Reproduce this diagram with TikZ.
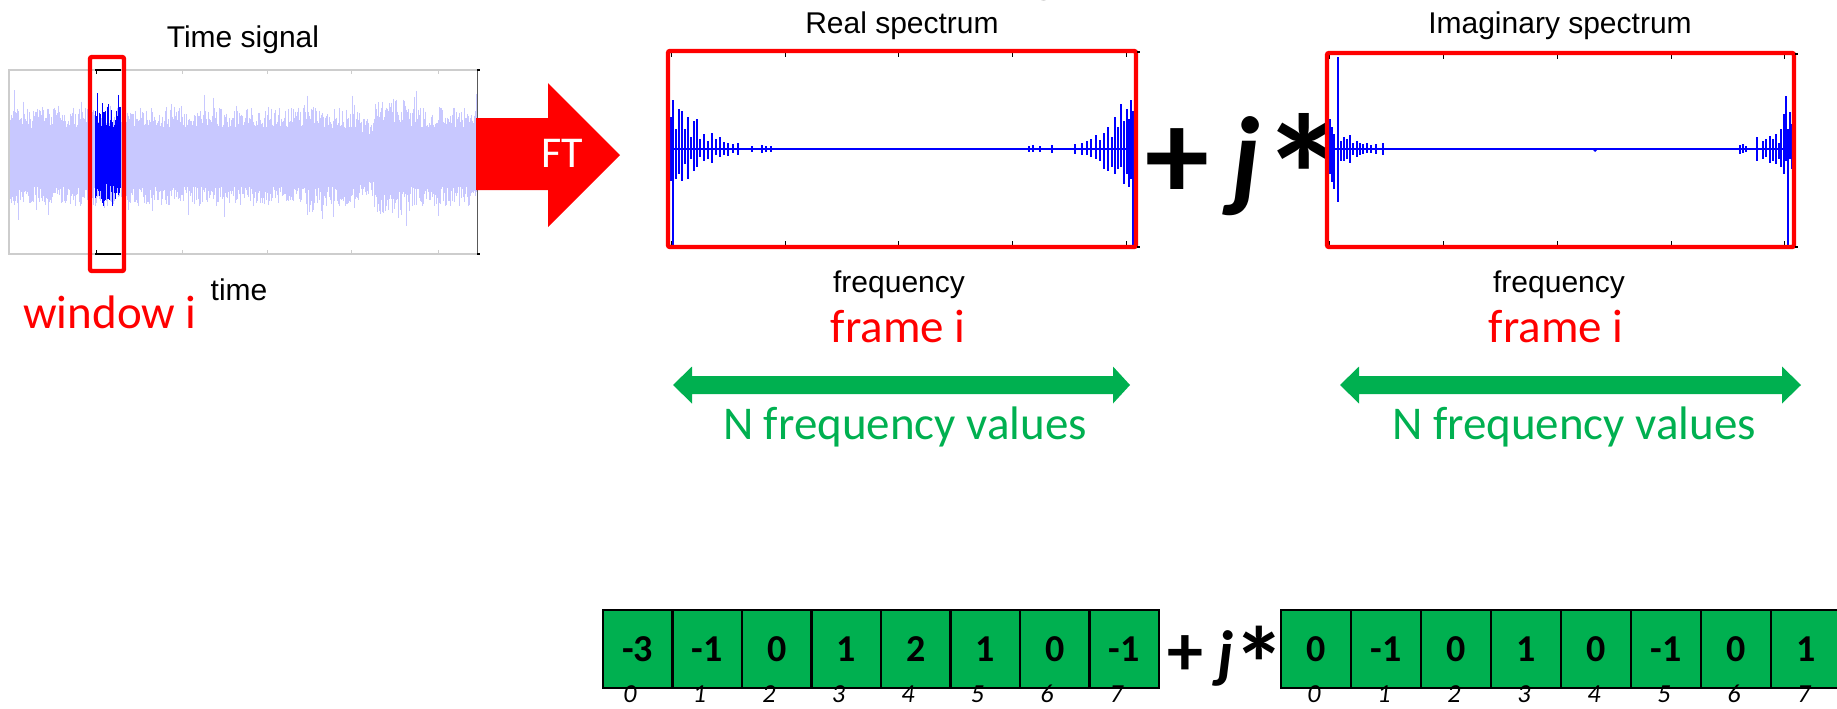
\documentclass[tikz,border=0pt]{standalone}
\usepackage{fontspec}
\setmainfont{Liberation Sans}
\newfontfamily\calib{Carlito}
\usetikzlibrary{calc}

\definecolor{offgreen}{RGB}{0,176,80}
\definecolor{lightsig}{RGB}{200,200,255}
\definecolor{axgrey}{RGB}{205,205,205}
\definecolor{specblue}{RGB}{0,0,255}

\begin{document}
\begin{tikzpicture}[x=0.5pt,y=-0.5pt,
  plotlabel/.style={font=\fontsize{15}{18}\selectfont, inner sep=0, anchor=base},
  redlabel/.style={font=\calib\fontsize{23.5}{28}\selectfont, text=red, inner sep=0, anchor=base},
  greenlabel/.style={font=\calib\fontsize{23.5}{28}\selectfont, text=offgreen, inner sep=0, anchor=base},
  redframe/.style={draw=red, line width=2.2pt, rounded corners=1pt, inner sep=0},
  cell/.style={draw=black, line width=1.4pt, fill=offgreen, inner sep=0,
    minimum height=39pt, font=\calib\bfseries\fontsize{19}{22}\selectfont},
  idx/.style={font=\calib\itshape\fontsize{13}{15}\selectfont, inner sep=0, anchor=base},
  bigop/.style={font=\calib\bfseries, inner sep=0, anchor=base},
  spike/.style={specblue, line width=0.55pt},
  tick/.style={line width=0.5pt},
]
\useasboundingbox (0,0) rectangle (1837,708);

% cut-off title glyph at the very top
\node[font=\calib\bfseries\fontsize{30}{36}\selectfont, inner sep=0, anchor=base] (ttl) at (1045,-10) {g};

% ---------------- time signal ----------------
\node[plotlabel] (tsig) at (243,47) {Time signal};
\pgfmathsetseed{3}
\foreach \k in {0,...,467}{
  \pgfmathsetmacro\sigx{10+\k}
  \pgfmathsetmacro\sigA{ifthenelse(\sigx<360,46,ifthenelse(\sigx<374,36,ifthenelse(\sigx<410,54,46)))}
  \pgfmathsetmacro\sigup{\sigA*(0.64+0.44*rnd)+18*rnd*(rnd>0.9)}
  \pgfmathsetmacro\sigdn{\sigA*(0.64+0.44*rnd)+16*rnd*(rnd>0.9)}
  \draw[lightsig, line width=0.5pt] (\sigx,157-\sigup) -- (\sigx,157+\sigdn);
}
\foreach \k in {0,...,32}{
  \pgfmathsetmacro\sigx{95+0.8*\k}
  \pgfmathsetmacro\sigup{44*(0.65+0.4*rnd)+22*rnd*(rnd>0.85)}
  \pgfmathsetmacro\sigdn{42*(0.65+0.4*rnd)+12*rnd*(rnd>0.85)}
  \draw[specblue, line width=0.45pt] (\sigx,157-\sigup) -- (\sigx,157+\sigdn);
}
% axes of the time plot
\draw[axgrey, line width=1pt] (477,70) -- (9,70) -- (9,254) -- (477,254);
\draw[black!65, line width=0.5pt] (477,70) -- (477,254);
\draw[black, line width=0.8pt] (477,70) -- (480,70) (477,254) -- (480,254);
\foreach \tx in {182,267,351,438}{
  \draw[axgrey, tick] (\tx,70) -- (\tx,74) (\tx,254) -- (\tx,250);
}
\draw[black, line width=0.8pt] (95,70) -- (121,70) (95,254) -- (121,254);
\draw[black, tick] (96,70) -- (96,74) (96,254) -- (96,250);
\node[redframe, minimum width=17pt, minimum height=107pt] (win) at (107,164) {};
\node[plotlabel] (tlab) at (239,300) {time};
\node[redlabel] (wlab) at (110,328) {window i};

% ---------------- FT arrow ----------------
\fill[red] (476,118) -- (548,118) -- (548,83) -- (620,155) -- (548,227) -- (548,190) -- (476,190) -- cycle;
\node[font=\calib\fontsize{22}{26}\selectfont, text=white, anchor=base, inner sep=0] (ft) at (562,167) {FT};

% ---------------- real spectrum ----------------
\node[plotlabel] (rtitle) at (902,33) {Real spectrum};
\draw[specblue, line width=1.1pt] (671,149) -- (1134,149);
\foreach \sx/\su/\sd in {671/32/32,673/49/96,676/20/30,679/40/25,682/38/32,685/20/15,688/32/30,
  691/12/10,694/28/22,697/30/18,700/10/8,704/15/12,708/8/10,712/16/14,716/10/6,720/12/8,
  724/7/6,728/6/7,733/5/4,738/6/6,752/3/3,762/4/4,766/3/3,771/3/3,
  1029/3/3,1033/4/3,1040/3/3,1052/4/4,1075/5/5,1082/6/6,1087/8/6,1091/10/8,1096/14/10,
  1100/9/12,1104/16/20,1108/22/22,1112/12/18,1115/32/25,1118/22/20,1121/45/18,
  1124/28/35,1127/40/25,1129/30/38,1131/49/30,1133/38/96}{
  \draw[spike] (\sx,149-\su) -- (\sx,149+\sd);
}
\foreach \tx in {671,785,898,1012,1126}{
  \draw[black, tick] (\tx,53) -- (\tx,57) (\tx,245) -- (\tx,241);
}
\node[redframe, minimum width=234pt, minimum height=98pt] (realbox) at (902,149) {};
\draw[black, line width=0.8pt] (1137,52) -- (1140,52) (1137,247) -- (1140,247);
\node[plotlabel] (rfreq) at (899,292) {frequency};
\node[redlabel] (rframe) at (898,342) {frame i};

% ---------------- plus j* ----------------
\node[bigop, font=\calib\bfseries\fontsize{64}{70}\selectfont] (plustop) at (1177,199) {+};
\node[bigop, anchor=base west, font=\calib\bfseries\itshape\fontsize{57}{64}\selectfont] (jtop) at (1231,196) {j};
\node[inner sep=0, anchor=north, font=\calib\bfseries\fontsize{86}{94}\selectfont] (startop) at (1304,113) {*};

% ---------------- imaginary spectrum ----------------
\node[plotlabel] (ititle) at (1560,33) {Imaginary spectrum};
\draw[specblue, line width=1.1pt] (1329,149) -- (1792,149);
\draw[specblue, line width=0.7pt] (1593,149) -- (1595,151) -- (1597,149);
\foreach \sx/\su/\sd in {1330/30/25,1332/22/33,1334/15/40,1338/92/53,1341/8/12,1344/12/12,
  1347/10/10,1350/14/14,1353/6/6,1357/8/8,1360/6/6,1363/5/5,1367/6/4,1371/4/4,1376/5/5,1383/6/6,
  1740/4/5,1743/5/4,1746/3/3,1757/12/12,1763/8/10,1766/10/8,1770/13/14,1773/10/12,1776/15/15,
  1779/6/10,1781/20/18,1784/35/25,1786/53/12,1788/20/96,1790/37/10,1792/25/20}{
  \draw[spike] (\sx,149-\su) -- (\sx,149+\sd);
}
\foreach \tx in {1329,1443,1557,1671,1784}{
  \draw[black, tick] (\tx,55) -- (\tx,59) (\tx,245) -- (\tx,241);
}
\node[redframe, minimum width=233.5pt, minimum height=97pt] (imagbox) at (1560.5,150) {};
\draw[black, line width=0.8pt] (1795,54) -- (1798,54) (1795,247) -- (1798,247);
\node[plotlabel] (ifreq) at (1559,292) {frequency};
\node[redlabel] (iframe) at (1556,342) {frame i};

% ---------------- N frequency values arrows ----------------
\fill[offgreen] (673,385) -- (692,366.5) -- (692,376) -- (1113,376) -- (1113,366.5) -- (1130,385)
  -- (1113,403.5) -- (1113,394) -- (692,394) -- (692,403.5) -- cycle;
\node[greenlabel] (rN) at (905,439) {N frequency values};
\fill[offgreen] (1340,385) -- (1359,366.5) -- (1359,376) -- (1782,376) -- (1782,366.5) -- (1801,385)
  -- (1782,403.5) -- (1782,394) -- (1359,394) -- (1359,403.5) -- cycle;
\node[greenlabel] (iN) at (1574,439) {N frequency values};

% ---------------- sample arrays ----------------
\foreach \v [count=\i from 0] in {-3,-1,0,1,2,1,0,-1}{
  \node[cell, minimum width=34.75pt] (re\i) at (637.75+69.5*\i,649) {\v};
  \node[idx] (rei\i) at (630+69.5*\i,702) {\i};
}
\node[bigop, font=\calib\bfseries\fontsize{36}{40}\selectfont] (plusbot) at (1185,675) {+};
\node[bigop, anchor=base west, font=\calib\bfseries\itshape\fontsize{32}{36}\selectfont] (jbot) at (1217,675) {j};
\node[inner sep=0, anchor=north, font=\calib\bfseries\fontsize{52}{58}\selectfont] (starbot) at (1259,626) {*};
\foreach \v [count=\i from 0] in {0,-1,0,1,0,-1,0,1}{
  \node[cell, minimum width=35pt] (im\i) at (1316+70*\i,649) {\v};
  \node[idx] (imi\i) at (1314+70*\i,702) {\i};
}
\end{tikzpicture}
\end{document}
